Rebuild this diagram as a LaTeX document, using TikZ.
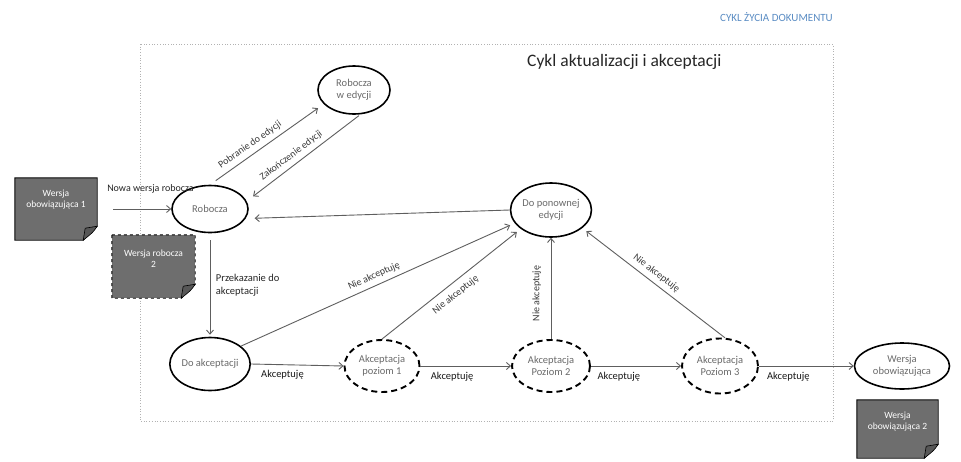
\documentclass[tikz,border=0pt]{standalone}
\usepackage{fontspec}
\setmainfont{Carlito}
\usetikzlibrary{shapes.geometric,arrows.meta}
\definecolor{notegray}{HTML}{6E6E6E}
\definecolor{foldgray}{HTML}{575757}
\definecolor{linegray}{HTML}{5E5E5E}
\definecolor{stxt}{HTML}{6A6A6A}
\definecolor{labtxt}{HTML}{3A3A3A}
\definecolor{titleblue}{HTML}{5B8DC4}
\tikzset{
  st/.style={ellipse, draw=black, line width=1.6pt, inner sep=0pt, align=center,
    text=stxt, font=\fontsize{10.5}{12}\selectfont},
  dst/.style={st, line width=1.9pt, dash pattern=on 6pt off 4pt},
  notebox/.style={rectangle, fill=notegray, draw=none, inner sep=0pt},
  notetxt/.style={text=white, align=center, font=\fontsize{9.5}{11}\selectfont, inner sep=0pt},
  conn/.style={draw=linegray, line width=0.9pt, -{Straight Barb[length=4pt,width=7pt]}},
  lab/.style={font=\fontsize{10}{11}\selectfont, text=labtxt, inner sep=1.5pt},
  acc/.style={font=\fontsize{10.5}{12}\selectfont, text=black!90, inner sep=1.5pt},
  frame/.style={draw=black!30, line width=0.7pt, dotted}
}
\newcommand{\foldcorner}[2]{%
  \fill[white] ([xshift=-14pt]#1.south east) -- (#1.south east) -- ([yshift=14pt]#1.south east) -- cycle;
  \draw[black, line width=0.9pt, #2] (#1.north west) -- (#1.north east) -- ([yshift=14pt]#1.south east)
     -- ([xshift=-14pt]#1.south east) -- (#1.south west) -- cycle;
  \filldraw[fill=foldgray, draw=black, line width=0.6pt] ([yshift=14pt]#1.south east)
     .. controls ([xshift=-4pt,yshift=8pt]#1.south east) .. ([xshift=-14pt]#1.south east)
     -- ([xshift=-12pt,yshift=12pt]#1.south east) -- cycle;}
\begin{document}
\begin{tikzpicture}[x=1pt,y=-1pt]
\useasboundingbox (0,0) rectangle (961,461);
\fill[white] (0,0) rectangle (961,461);

% frame and titles
\draw[frame] (140,44) rectangle (833,421);
\node[anchor=east, text=titleblue, font=\fontsize{11}{13}\selectfont, inner sep=0pt] (ttl) at (833,17) {CYKL ŻYCIA DOKUMENTU};
\node[anchor=west, text=black!85, font=\fontsize{17.5}{20}\selectfont, inner sep=0pt] (sub) at (527,62) {Cykl aktualizacji i akceptacji};

% notes
\node[notebox, minimum width=82pt, minimum height=62pt] (w1) at (56,209) {};
\foldcorner{w1}{}
\node[notetxt] (w1t) at ([yshift=9pt]w1.center) {Wersja\\obowiązująca 1};

\node[notebox, minimum width=83pt, minimum height=63pt] (w2) at (153.5,266.5) {};
\foldcorner{w2}{dashed}
\node[notetxt] (w2t) at ([yshift=8pt]w2.center) {Wersja robocza\\2};

\node[notebox, minimum width=81pt, minimum height=58pt] (w3) at (897.5,429) {};
\foldcorner{w3}{}
\node[notetxt] (w3t) at ([yshift=7pt]w3.center) {Wersja\\obowiązująca 2};

% states
\node[st, minimum width=76pt, minimum height=47pt] (rob) at (210,209) {Robocza};
\node[st, minimum width=72pt, minimum height=48pt] (rwe) at (354,90) {Robocza\\w edycji};
\node[st, minimum width=78pt, minimum height=54pt] (dpe) at (551,210) {Do ponownej\\edycji};
\node[st, minimum width=78pt, minimum height=53pt] (dak) at (210,364) {Do akceptacji};
\node[dst, minimum width=75pt, minimum height=52pt] (ap1) at (382,366) {Akceptacja\\poziom 1};
\node[dst, minimum width=78pt, minimum height=52pt] (ap2) at (551,366) {Akceptacja\\Poziom 2};
\node[dst, minimum width=76pt, minimum height=55pt] (ap3) at (720,366) {Akceptacja\\Poziom 3};
\node[st, minimum width=95pt, minimum height=46pt] (wob) at (902,366) {Wersja\\obowiązująca};

% connectors
\draw[conn, shorten <=16pt] (w1.east) -- node[lab, above=14pt, pos=0.72, text=black!85] {Nowa wersja robocza} (rob.west);
\draw[conn, shorten <=7pt, shorten >=7pt] (rob.north) -- node[lab, sloped, above=3pt, pos=0.4] {Pobranie do edycji} (rwe.205);
\draw[conn, shorten <=2pt, shorten >=8pt] (rwe.-75) -- node[lab, sloped, above=3pt, pos=0.56] {Zakończenie edycji} (rob.12);
\draw[conn, shorten >=9pt] (dpe.west) -- (rob.-15);
\draw[conn, shorten <=7pt, shorten >=2pt] (rob.south) -- node[lab, right=4pt, align=left, pos=0.5, text=black!85, font=\fontsize{10.5}{12.5}\selectfont] {Przekazanie do\\akceptacji} (dak.north);
\draw[conn, shorten >=5pt] (dak.30) -- node[lab, sloped, above=3pt, pos=0.5] {Nie akceptuję} (dpe.200);
\draw[conn, shorten >=5pt] (ap1.north) -- node[lab, sloped, below=5pt, pos=0.48] {Nie akceptuję} (dpe.212);
\draw[conn] (ap2.north) -- node[lab, sloped, above=8pt, pos=0.45] {Nie akceptuję} (dpe.south);
\draw[conn, shorten >=5pt] (ap3.80) -- node[lab, sloped, above=3pt, pos=0.52] {Nie akceptuję} (dpe.-30);

\draw[conn] (dak.east) -- node[acc, below=4pt, pos=0.34] {Akceptuję} (ap1.west);
\draw[conn] (ap1.east) -- node[acc, below=4pt, pos=0.35] {Akceptuję} (ap2.west);
\draw[conn] (ap2.east) -- node[acc, below=4pt, pos=0.31] {Akceptuję} (ap3.west);
\draw[conn] (ap3.east) -- node[acc, below=4pt, pos=0.31] {Akceptuję} (wob.west);
\end{tikzpicture}
\end{document}
